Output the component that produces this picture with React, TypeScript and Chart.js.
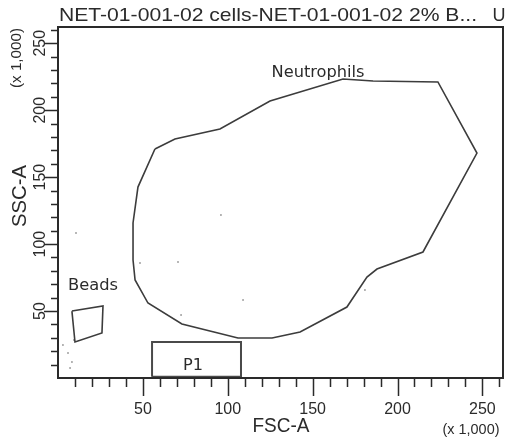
import { useEffect, useRef } from "react";
import { Chart, registerables } from "chart.js";

Chart.register(...registerables);

// ---- data (x 1,000 units) ----
const AXIS_MIN = 0;
const AXIS_MAX = 262.144;
const xMajorTicks = [50, 100, 150, 200, 250];
const yMajorTicks = [50, 100, 150, 200, 250];
const minorTicks = [10, 20, 30, 40, 60, 70, 80, 90, 110, 120, 130, 140, 160, 170, 180, 190, 210, 220, 230, 240, 260];

const neutrophilX = [57.1, 68.9, 95.4, 124.9, 167.9, 185.6, 223.8, 246.8, 215.0, 187.9, 182.0, 170.2, 142.6, 126.1, 106.0, 73.0, 53.0, 45.4, 44.2, 44.2, 47.1];
const neutrophilY = [171.0, 178.5, 186.0, 206.9, 223.3, 221.8, 221.1, 168.0, 94.1, 81.4, 75.4, 53.0, 34.4, 29.9, 29.9, 40.3, 56.0, 73.2, 88.1, 115.8, 142.6];

const beadsX = [8.2, 26.5, 25.9, 10.0];
const beadsY = [50.0, 53.8, 33.6, 26.9];

const p1X = [55.4, 107.8, 107.8, 55.4];
const p1Y = [1.0, 1.0, 26.9, 26.9];

const eventX = [10.6, 5.9, 8.2, 7.1, 9.4, 2.9, 96.0, 70.7, 48.3, 72.5, 109.0, 180.8];
const eventY = [108.3, 18.7, 11.9, 7.5, 28.4, 24.6, 121.7, 86.6, 85.9, 47.0, 58.3, 65.7];

const gateNames = ["Neutrophils", "Beads", "P1"];
const gateLabelX = [153.2, 20.6, 79.5];
const gateLabelY = [224.8, 65.7, 6.0];
const gateLabelWidth = [93, 50, 20];

const titleText = "NET-01-001-02 cells-NET-01-001-02 2% B...";
const cornerText = "U";
const xTitle = "FSC-A";
const yTitle = "SSC-A";
const unitText = "(x 1,000)";

const SANS = '"Liberation Sans", Arial, sans-serif';
const DEJAVU = '"DejaVu Sans", sans-serif';
const TEXT_COLOR = "#2b2b2b";

function polygon(xs: number[], ys: number[]) {
  const pts = xs.map((x, i) => ({ x, y: ys[i] }));
  pts.push({ x: xs[0], y: ys[0] });
  return pts;
}

function drawText(
  ctx: CanvasRenderingContext2D,
  text: string,
  x: number,
  y: number,
  size: number,
  family: string,
  width: number | null,
  rotate: boolean,
  align: CanvasTextAlign = "center"
) {
  ctx.save();
  ctx.translate(x, y);
  if (rotate) ctx.rotate(-Math.PI / 2);
  ctx.font = `${size}px ${family}`;
  const w = ctx.measureText(text).width;
  const sx = width ? width / w : 1;
  ctx.scale(sx, 1);
  ctx.textAlign = align;
  ctx.textBaseline = "alphabetic";
  ctx.fillStyle = TEXT_COLOR;
  ctx.fillText(text, 0, 0);
  ctx.restore();
}

const facsPlugin = {
  id: "facsAxes",
  afterDatasetsDraw(chart: any) {
    const ctx: CanvasRenderingContext2D = chart.ctx;
    const xs = chart.scales.x;
    const ys = chart.scales.y;
    gateNames.forEach((name, i) => {
      drawText(ctx, name, xs.getPixelForValue(gateLabelX[i]), ys.getPixelForValue(gateLabelY[i]), 16, DEJAVU, gateLabelWidth[i], false);
    });
  },
  afterDraw(chart: any) {
    const ctx: CanvasRenderingContext2D = chart.ctx;
    const { left, right, top, bottom } = chart.chartArea;
    const xs = chart.scales.x;
    const ys = chart.scales.y;

    ctx.save();
    // frame
    ctx.strokeStyle = "#2a2a2a";
    ctx.lineWidth = 2;
    ctx.strokeRect(left, top, right - left, bottom - top);

    // ticks
    ctx.lineWidth = 1.5;
    ctx.beginPath();
    minorTicks.forEach((v) => {
      const px = Math.round(xs.getPixelForValue(v)) + 0.5;
      ctx.moveTo(px, bottom);
      ctx.lineTo(px, bottom + 9);
      const py = Math.round(ys.getPixelForValue(v)) + 0.5;
      ctx.moveTo(left, py);
      ctx.lineTo(left - 7, py);
    });
    xMajorTicks.forEach((v) => {
      const px = Math.round(xs.getPixelForValue(v)) + 0.5;
      ctx.moveTo(px, bottom);
      ctx.lineTo(px, bottom + 18);
    });
    yMajorTicks.forEach((v) => {
      const py = Math.round(ys.getPixelForValue(v)) + 0.5;
      ctx.moveTo(left, py);
      ctx.lineTo(left - 14, py);
    });
    ctx.stroke();
    ctx.restore();

    // tick labels
    xMajorTicks.forEach((v) => {
      drawText(ctx, String(v), xs.getPixelForValue(v), bottom + 36, 16, SANS, null, false);
    });
    yMajorTicks.forEach((v) => {
      drawText(ctx, String(v), left - 13, ys.getPixelForValue(v), 16, SANS, null, true);
    });

    // titles
    drawText(ctx, titleText, left + 1, 21, 19, SANS, 418, false, "left");
    drawText(ctx, cornerText, 499, 21, 18, SANS, null, false);
    drawText(ctx, xTitle, 281, 432, 20, SANS, 57, false);
    drawText(ctx, unitText, 471, 434, 14, SANS, 57, false);
    drawText(ctx, yTitle, 26, 196, 20, SANS, 62, true);
    drawText(ctx, unitText, 21, 58, 14, SANS, 60, true);
  },
};

export default function App() {
  const canvasRef = useRef<HTMLCanvasElement | null>(null);

  useEffect(() => {
    const canvas = canvasRef.current;
    if (!canvas) return;
    const chart = new Chart(canvas, {
      type: "scatter",
      data: {
        datasets: [
          {
            label: "Neutrophils",
            data: polygon(neutrophilX, neutrophilY),
            showLine: true,
            borderColor: "#3c3c3c",
            borderWidth: 1.6,
            pointRadius: 0,
            tension: 0,
          },
          {
            label: "Beads",
            data: polygon(beadsX, beadsY),
            showLine: true,
            borderColor: "#3c3c3c",
            borderWidth: 1.6,
            pointRadius: 0,
          },
          {
            label: "P1",
            data: polygon(p1X, p1Y),
            showLine: true,
            borderColor: "#4a4a4a",
            borderWidth: 2,
            pointRadius: 0,
          },
          {
            label: "Events",
            data: eventX.map((x, i) => ({ x, y: eventY[i] })),
            showLine: false,
            pointRadius: 1,
            pointBorderWidth: 0,
            backgroundColor: "#a0a0a0",
            borderColor: "#a0a0a0",
          },
        ],
      },
      options: {
        animation: false,
        responsive: false,
        devicePixelRatio: 1,
        layout: { padding: { left: 58, right: 4, top: 27, bottom: 68 } },
        plugins: { legend: { display: false }, tooltip: { enabled: false }, title: { display: false } },
        scales: {
          x: { type: "linear", min: AXIS_MIN, max: AXIS_MAX, display: false },
          y: { type: "linear", min: AXIS_MIN, max: AXIS_MAX, display: false },
        },
      },
      plugins: [facsPlugin],
    });
    return () => chart.destroy();
  }, []);

  return (
    <div style={{ position: "absolute", left: 0, top: 0, width: 507, height: 446, background: "#fff" }}>
      <canvas ref={canvasRef} width={507} height={446} style={{ display: "block" }} />
    </div>
  );
}
